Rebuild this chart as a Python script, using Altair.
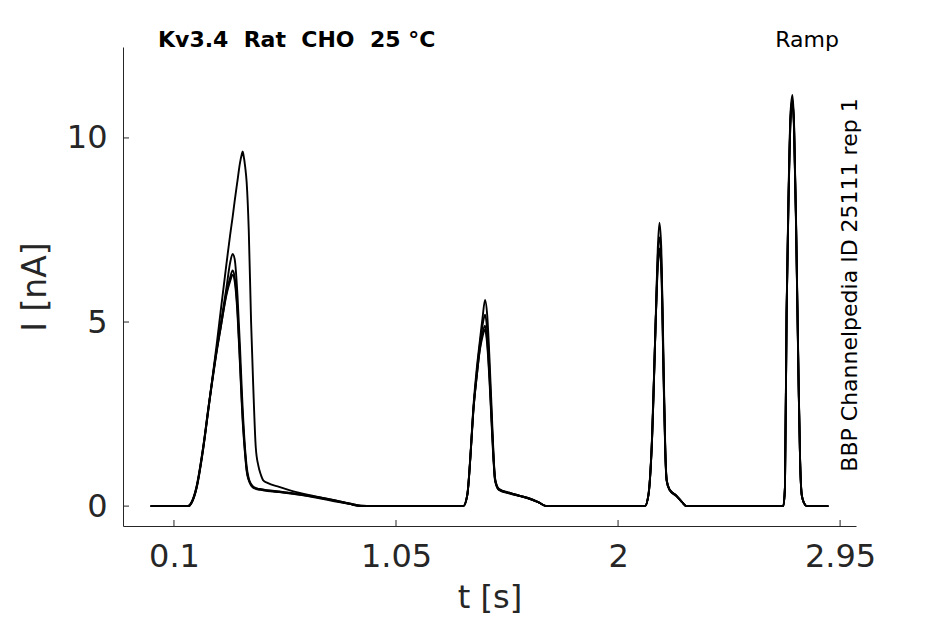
import altair as alt
import pandas as pd

# time grid [s]
t_grid = [0.0, 0.15, 0.16, 0.176, 0.197, 0.225, 0.25, 0.283, 0.30, 0.325,
          0.34, 0.351, 0.36, 0.372, 0.382, 0.39, 0.394, 0.397, 0.405, 0.411,
          0.42, 0.43, 0.439, 0.45, 0.461, 0.472, 0.482, 0.50, 0.55, 0.60,
          0.70, 0.80, 0.85, 0.90, 0.95,
          1.30, 1.338, 1.355, 1.37, 1.38, 1.395, 1.409, 1.42, 1.431, 1.44,
          1.45, 1.46, 1.468, 1.474, 1.49, 1.538, 1.58, 1.623, 1.66, 1.695,
          2.10, 2.115, 2.13, 2.144, 2.162, 2.17, 2.177, 2.185, 2.195, 2.202,
          2.208, 2.22, 2.25, 2.275, 2.293,
          2.70, 2.707, 2.714, 2.721, 2.73, 2.738, 2.746, 2.753, 2.762, 2.772,
          2.779, 2.786, 2.796, 2.807, 2.90]

# current sweeps [nA]
sweep_1 = [0, 0, 0, 0.1, 0.5, 1.55, 2.75, 4.4, 5.3, 6.6,
           7.35, 7.85, 8.3, 8.85, 9.3, 9.55, 9.63, 9.55, 9.2, 8.8,
           7.5, 5.0, 3.3, 1.6, 1.1, 0.85, 0.7, 0.63, 0.52, 0.42,
           0.27, 0.14, 0.07, 0.01, 0,
           0, 0, 0.3, 1.5, 2.6, 3.7, 4.5, 5.1, 5.6, 5.2,
           4.0, 2.5, 1.3, 0.75, 0.47, 0.36, 0.28, 0.2, 0.1, 0,
           0, 0, 0.3, 1.6, 5.3, 7.0, 7.7, 7.0, 3.8, 1.6,
           0.72, 0.46, 0.28, 0.1, 0,
           0, 0, 0.5, 5.3, 8.7, 10.7, 11.17, 10.4, 7.6, 3.6,
           1.2, 0.3, 0.08, 0, 0]

sweep_2 = [0, 0, 0, 0.1, 0.52, 1.6, 2.8, 4.25, 4.95, 5.95,
           6.6, 6.85, 6.7, 5.7, 4.4, 3.2, 2.65, 2.3, 1.5, 1.08,
           0.75, 0.6, 0.53, 0.49, 0.47, 0.46, 0.45, 0.43, 0.4, 0.36,
           0.26, 0.14, 0.07, 0.01, 0,
           0, 0, 0.3, 1.5, 2.5, 3.6, 4.4, 4.9, 5.2, 4.8,
           3.7, 2.3, 1.25, 0.72, 0.46, 0.35, 0.28, 0.2, 0.1, 0,
           0, 0, 0.3, 1.6, 5.2, 6.8, 7.3, 6.7, 3.6, 1.5,
           0.7, 0.45, 0.28, 0.1, 0,
           0, 0, 0.5, 5.2, 8.6, 10.6, 11.05, 10.3, 7.5, 3.5,
           1.2, 0.3, 0.08, 0, 0]

sweep_3 = [0, 0, 0, 0.1, 0.5, 1.55, 2.75, 4.2, 4.85, 5.8,
           6.2, 6.4, 6.2, 5.3, 4.0, 2.9, 2.4, 2.1, 1.4, 1.0,
           0.72, 0.58, 0.52, 0.48, 0.46, 0.45, 0.44, 0.42, 0.39, 0.35,
           0.25, 0.13, 0.06, 0.0, 0,
           0, 0, 0.3, 1.5, 2.5, 3.5, 4.3, 4.7, 4.9, 4.5,
           3.5, 2.2, 1.2, 0.7, 0.45, 0.35, 0.28, 0.2, 0.1, 0,
           0, 0, 0.3, 1.6, 5.2, 6.6, 7.0, 6.5, 3.5, 1.5,
           0.7, 0.45, 0.28, 0.1, 0,
           0, 0, 0.5, 5.2, 8.5, 10.5, 11.0, 10.3, 7.5, 3.5,
           1.2, 0.3, 0.08, 0, 0]

sweep_4 = [0, 0, 0, 0.12, 0.55, 1.6, 2.8, 4.25, 4.85, 5.75,
           6.1, 6.28, 6.1, 5.2, 3.9, 2.8, 2.3, 2.0, 1.35, 0.95,
           0.7, 0.56, 0.5, 0.47, 0.45, 0.44, 0.43, 0.41, 0.38, 0.34,
           0.24, 0.12, 0.06, 0.0, 0,
           0, 0, 0.32, 1.55, 2.55, 3.5, 4.25, 4.6, 4.8, 4.4,
           3.4, 2.1, 1.15, 0.68, 0.44, 0.34, 0.27, 0.19, 0.1, 0,
           0, 0, 0.32, 1.65, 5.2, 6.5, 6.9, 6.4, 3.4, 1.45,
           0.68, 0.44, 0.27, 0.1, 0,
           0, 0, 0.52, 5.25, 8.5, 10.45, 10.9, 10.2, 7.4, 3.45,
           1.2, 0.3, 0.08, 0, 0]

x_ticks = [0.1, 1.05, 2, 2.95]
y_ticks = [0, 5, 10]

x_domain = [-0.118, 3.018]
y_domain = [-0.54, 12.47]

rows = []
for name, vals in [("1", sweep_1), ("2", sweep_2), ("3", sweep_3), ("4", sweep_4)]:
    for t, i in zip(t_grid, vals):
        rows.append({"sweep": name, "t": t, "I": i})
df = pd.DataFrame(rows)

W, H = 733, 479
TXT = "#262626"
FONT = "DejaVu Sans"

xscale = alt.Scale(domain=x_domain, nice=False, zero=False)
yscale = alt.Scale(domain=y_domain, nice=False, zero=False)

lines = alt.Chart(df).mark_line(color="black", strokeWidth=1.9, clip=True,
                                interpolate="monotone").encode(
    x=alt.X("t:Q", scale=xscale,
            axis=alt.Axis(values=x_ticks, title="t [s]", labelExpr="datum.value + ''",
                          tickSize=0, labelPadding=15, labelFontSize=32,
                          titleFontSize=32, titleFontWeight="normal", titlePadding=10,
                          labelColor=TXT, titleColor=TXT, domainColor=TXT, grid=False,
                          labelFont=FONT, titleFont=FONT, labelFlush=False)),
    y=alt.Y("I:Q", scale=yscale,
            axis=alt.Axis(values=y_ticks, title="I [nA]", tickSize=0, labelPadding=16,
                          labelFontSize=32, titleFontSize=33, titleFontWeight="normal",
                          titlePadding=14, labelColor=TXT, titleColor=TXT,
                          domainColor=TXT, grid=False, labelFont=FONT,
                          titleFont=FONT)),
    detail="sweep:N",
)

xt = pd.DataFrame({"v": x_ticks})
yt = pd.DataFrame({"v": y_ticks})

xtick_rules = alt.Chart(xt).mark_rule(color=TXT, strokeWidth=1).encode(
    x=alt.X("v:Q", scale=xscale), y=alt.value(H), y2=alt.value(H - 6))
ytick_rules = alt.Chart(yt).mark_rule(color=TXT, strokeWidth=1).encode(
    y=alt.Y("v:Q", scale=yscale), x=alt.value(0), x2=alt.value(6))

NB = "\u00a0"
title_txt = alt.Chart(pd.DataFrame({"s": [f"Kv3.4 {NB}Rat {NB}CHO {NB}25 \u00b0C"]})).mark_text(
    align="left", baseline="alphabetic", fontSize=22, fontWeight="bold",
    font=FONT, color="black").encode(
    x=alt.value(35), y=alt.value(0), text="s:N")

ramp_txt = alt.Chart(pd.DataFrame({"s": ["Ramp"]})).mark_text(
    align="right", baseline="alphabetic", fontSize=22, font=FONT,
    color="black").encode(x=alt.value(716), y=alt.value(0), text="s:N")

id_txt = alt.Chart(pd.DataFrame({"s": ["BBP Channelpedia ID 25111 rep 1"]})).mark_text(
    align="center", baseline="middle", fontSize=22, font=FONT,
    color="black", angle=270).encode(x=alt.value(727), y=alt.value(238), text="s:N")

chart = alt.layer(lines, xtick_rules, ytick_rules, title_txt, ramp_txt, id_txt).properties(
    width=W, height=H,
    autosize=alt.AutoSizeParams(type="none"),
    padding={"left": 115, "top": 39, "right": 81, "bottom": 90},
).configure_view(stroke=None).configure_axis(domainWidth=1)

chart.save("out.html", embed_options={"renderer": "svg", "actions": False})
